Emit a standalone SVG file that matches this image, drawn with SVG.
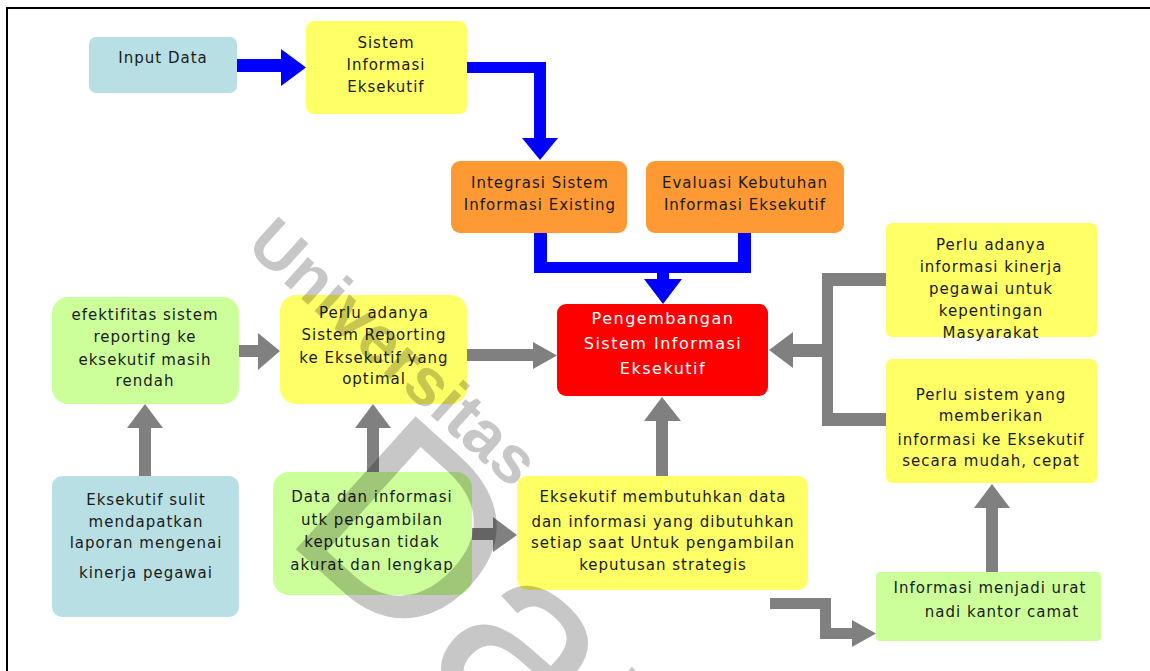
<svg xmlns="http://www.w3.org/2000/svg" width="1150" height="671" viewBox="0 0 1150 671">
<style>
.t{font-family:"DejaVu Sans","Liberation Sans",sans-serif;font-size:15px;letter-spacing:1px;fill:#1a1a1a;text-anchor:middle}
.w{fill:#ffffff;font-size:16px;letter-spacing:1.5px}
.blue{fill:#b8dfe3}.yel{fill:#ffff66}.grn{fill:#ccff99}.org{fill:#ff9933}.red{fill:#ff0000}
.ab{fill:#0000ff}.ag{fill:#808080}
.wm{font-family:"Liberation Sans",sans-serif;fill:#000;fill-opacity:0.22;text-anchor:middle}
</style>
<rect width="1150" height="671" fill="#fff"/>
<path d="M6 8H1150M7 8V671" stroke="#000" stroke-width="2" fill="none"/>

<g id="n-input"><rect class="blue" x="89" y="37" width="148" height="56" rx="7"/><text class="t" x="163" y="63">Input Data</text></g>
<g id="n-sie"><rect class="yel" x="306" y="21" width="161" height="93" rx="8"/><text class="t" x="386" y="48">Sistem</text><text class="t" x="386" y="70">Informasi</text><text class="t" x="386" y="92">Eksekutif</text></g>
<g id="n-integrasi"><rect class="org" x="451" y="161" width="176" height="72" rx="9"/><text class="t" x="540" y="188">Integrasi Sistem</text><text class="t" x="540" y="210">Informasi Existing</text></g>
<g id="n-evaluasi"><rect class="org" x="646" y="161" width="198" height="72" rx="9"/><text class="t" x="745" y="188">Evaluasi Kebutuhan</text><text class="t" x="745" y="210">Informasi Eksekutif</text></g>
<g id="n-pengembangan"><rect class="red" x="557" y="304" width="211" height="92" rx="9"/><text class="t w" x="663" y="324">Pengembangan</text><text class="t w" x="663" y="349">Sistem Informasi</text><text class="t w" x="663" y="374">Eksekutif</text></g>
<g id="n-kinerja"><rect class="yel" x="886" y="223" width="211" height="114" rx="6"/><text class="t" x="991" y="250">Perlu adanya</text><text class="t" x="991" y="272">informasi kinerja</text><text class="t" x="991" y="294">pegawai untuk</text><text class="t" x="991" y="316">kepentingan</text><text class="t" x="991" y="338">Masyarakat</text></g>
<g id="n-mudah"><rect class="yel" x="886" y="359" width="211" height="124" rx="6"/><text class="t" x="991" y="400">Perlu sistem yang</text><text class="t" x="991" y="421">memberikan</text><text class="t" x="991" y="445">informasi ke Eksekutif</text><text class="t" x="991" y="466">secara mudah, cepat</text></g>
<g id="n-efektifitas"><rect class="grn" x="52" y="297" width="187" height="107" rx="16"/><text class="t" x="145" y="320">efektifitas sistem</text><text class="t" x="145" y="342">reporting ke</text><text class="t" x="145" y="365">eksekutif masih</text><text class="t" x="145" y="386">rendah</text></g>
<g id="n-reporting"><rect class="yel" x="280" y="295" width="187" height="109" rx="16"/><text class="t" x="374" y="318">Perlu adanya</text><text class="t" x="374" y="340">Sistem Reporting</text><text class="t" x="374" y="363">ke Eksekutif yang</text><text class="t" x="374" y="384">optimal</text></g>
<g id="n-sulit"><rect class="blue" x="52" y="476" width="187" height="141" rx="10"/><text class="t" x="146" y="505">Eksekutif sulit</text><text class="t" x="146" y="527">mendapatkan</text><text class="t" x="146" y="548">laporan mengenai</text><text class="t" x="146" y="578">kinerja pegawai</text></g>
<g id="n-data"><rect class="grn" x="273" y="472" width="199" height="123" rx="16"/><text class="t" x="372" y="502">Data dan informasi</text><text class="t" x="372" y="525">utk pengambilan</text><text class="t" x="372" y="547">keputusan tidak</text><text class="t" x="372" y="570">akurat dan lengkap</text></g>
<g id="n-butuh"><rect class="yel" x="517" y="476" width="291" height="114" rx="10"/><text class="t" x="663" y="502">Eksekutif membutuhkan data</text><text class="t" x="663" y="527">dan informasi yang dibutuhkan</text><text class="t" x="663" y="548">setiap saat Untuk pengambilan</text><text class="t" x="663" y="570">keputusan strategis</text></g>
<g id="n-urat"><rect class="grn" x="876" y="572" width="225" height="69" rx="4"/><text class="t" x="990" y="593">Informasi menjadi urat</text><text class="t" x="1002" y="617">nadi kantor camat</text></g>

<g id="connectors">
<polygon class="ab" points="237,59 281,59 281,49 306,67.5 281,86 281,72 237,72"/>
<polygon class="ab" points="467,62 546,62 546,138 558,138 540,160 522,138 534,138 534,73 467,73"/>
<polygon class="ab" points="534,233 547,233 547,262 738,262 738,233 751,233 751,273 669,273 669,279 682,279 663,304 644,279 657,279 657,273 534,273"/>
<polygon class="ag" points="239,345 258,345 258,333 280,351 258,370 258,357 239,357"/>
<polygon class="ag" points="467,349 533,349 533,342 557,355.5 533,369 533,361 467,361"/>
<polygon class="ag" points="139,476 139,428 127,428 145,404 163,428 151,428 151,476"/>
<polygon class="ag" points="367,472 367,428 355,428 373,404 391,428 379,428 379,472"/>
<polygon class="ag" points="472,528 493,528 493,517 517,535 493,552 493,540 472,540"/>
<polygon class="ag" points="656,476 656,421 644,421 662,397 681,421 668,421 668,476"/>
<polygon class="ag" points="886,273 822,273 822,344 793,344 793,332 769,350 793,368 793,357 822,357 822,426 886,426 886,413 833,413 833,286 886,286"/>
<polygon class="ag" points="986,572 986,508 974,508 992,484 1010,508 998,508 998,572"/>
<polygon class="ag" points="770,598 831,598 831,628 852,628 852,620 876,633.5 852,647 852,639 820,639 820,609 770,609"/>
</g>

<g id="watermark">
<text class="wm" font-weight="bold" font-size="67" transform="translate(395,351) rotate(42)" x="0" y="24">Universitas</text>
<text class="wm" font-size="260" transform="translate(280,535) rotate(42)" x="0" y="0" style="text-anchor:start">Darma</text>
</g>
</svg>
